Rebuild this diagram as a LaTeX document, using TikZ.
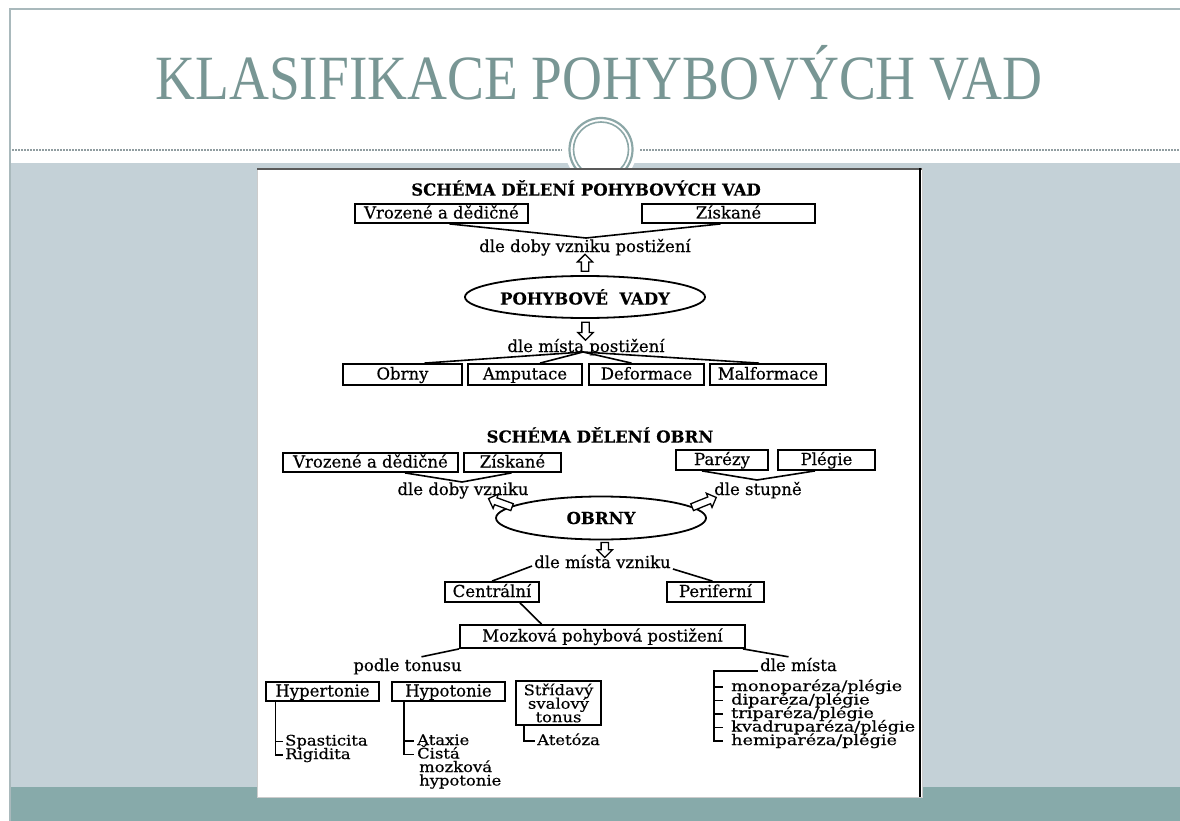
\documentclass[tikz,border=0pt]{standalone}
\usepackage{fontspec}
\usepackage{graphicx}
\setmainfont{DejaVu Serif}
\newfontfamily\scan{DejaVu Serif}[FakeBold=0.4]
\newfontfamily\scanbf{DejaVu Serif Bold}[FakeBold=0.3]
\newfontfamily\titlefont{Liberation Serif}
\usetikzlibrary{shapes.geometric,shapes.arrows,calc}
\definecolor{band}{HTML}{C4D1D7}
\definecolor{foot}{HTML}{87AAAA}
\definecolor{titlec}{HTML}{789694}
\definecolor{frame}{HTML}{A9B9BC}
\definecolor{ring}{HTML}{8CA7A7}
\newcommand{\wide}[1]{\scalebox{1.22}[1]{#1}}
\newcommand{\wid}[1]{\scalebox{1.13}[1]{#1}}
\newcommand{\tightlines}{\lineskiplimit=-50pt\relax\lineskip=0pt\relax}
\begin{document}
\begin{tikzpicture}[x=1pt,y=-1pt,
 lbl/.style={inner sep=0pt,font=\scan\fontsize{16.5}{18}\selectfont,text height=12pt,text depth=2pt},
 sm/.style={inner sep=0pt,anchor=west,font=\scan\fontsize{14.5}{16}\selectfont,text height=10pt,text depth=2pt},
 big/.style={inner sep=0pt,anchor=west,font=\scan\fontsize{14.5}{16}\selectfont,text height=10pt,text depth=2pt},
 hd/.style={inner sep=0pt,font=\scanbf\fontsize{16.5}{18}\selectfont},
 bx/.style={draw,line width=1.8pt,inner sep=0pt,font=\scan\fontsize{16.5}{18}\selectfont,text height=12pt,text depth=2pt},
 ov/.style={ellipse,draw,line width=1.8pt,inner sep=0pt,font=\scanbf\fontsize{16.5}{18}\selectfont},
 cn/.style={line width=1.6pt},
 har/.style={single arrow,draw,fill=white,line width=1.3pt,inner sep=3pt,single arrow head extend=4pt,minimum height=#1},
]
\useasboundingbox (0,0) rectangle (1180,821);
% slide background
\fill[white] (0,0) rectangle (1180,821);
\fill[band] (10,163) rectangle (1180,787);
\fill[foot] (10,787) rectangle (1180,821);
\draw[frame,line width=1.2pt] (10,821) -- (10,9) -- (1180,9);
\draw[frame!85!black,line width=1.2pt,dash pattern=on 1.5pt off 1.5pt] (12,150) -- (562,150) (640,150) -- (1180,150);
\fill[white] (601,149.5) circle (36);
\draw[ring,line width=2.2pt] (601,149.5) circle (31.5);
\draw[ring,line width=1.6pt] (601,149.5) circle (27.5);
\node[anchor=base,text=titlec,inner sep=0pt] (title) at (599,100)
  {\titlefont\fontsize{63}{70}\selectfont\scalebox{0.878}[1]{KLASIFIKACE POHYBOVÝCH VAD}};
% scanned panel
\fill[white] (257,168) rectangle (922,797);
\draw[black!20,line width=0.8pt] (257,168) rectangle (922,797);
\draw[black!65,line width=1.6pt] (257,169) -- (922,169);
\draw[black,line width=2.6pt] (920,168) -- (920,797);

% ---------- section 1 ----------
\node[hd] (h1) at (586,188) {SCHÉMA DĚLENÍ POHYBOVÝCH VAD};
\node[bx,minimum width=173pt,minimum height=19pt] (v1) at (441.5,213.5) {Vrozené a dědičné};
\node[bx,minimum width=173pt,minimum height=19pt] (z1) at (728.5,213.5) {Získané};
\node[lbl] (t1) at (585,247) {dle doby vzniku postižení};
\coordinate (p1) at (586,238);
\draw[cn] ([xshift=8pt]v1.south) -- (p1) -- ([xshift=-8pt]z1.south);
\node[ov,minimum width=208pt,minimum height=42pt] (e1) at (585,297) {POHYBOVÉ\ \ VADY};
\node[har=17pt,rotate=90] (a1) at ($(e1.north)!0.5!(t1.south)$) {};
\node[lbl] (t2) at (586,347) {dle místa postižení};
\node[har=18pt,rotate=-90] (a2) at ($(e1.south)!0.5!(t2.north)$) {};
\coordinate (p2) at (583,352);
\node[bx,minimum width=119pt,minimum height=21pt] (b1) at (402.5,374.5) {Obrny};
\node[bx,minimum width=114pt,minimum height=21pt] (b2) at (525,374.5) {Amputace};
\node[bx,minimum width=115pt,minimum height=21pt] (b3) at (646.5,374.5) {Deformace};
\node[bx,minimum width=116pt,minimum height=21pt] (b4) at (768,374.5) {Malformace};
\draw[cn] (p2) -- ([xshift=22pt]b1.north);
\draw[cn] (p2) -- ([xshift=15pt]b2.north);
\draw[cn] (p2) -- ([xshift=-15pt]b3.north);
\draw[cn] (p2) -- ([xshift=-9pt]b4.north);

% ---------- section 2 ----------
\node[hd] (h2) at (600,435) {SCHÉMA DĚLENÍ OBRN};
\node[bx,minimum width=175pt,minimum height=19pt] (v2) at (370.5,462.5) {Vrozené a dědičné};
\node[bx,minimum width=97pt,minimum height=19pt] (z2) at (512.5,462.5) {Získané};
\node[bx,minimum width=92pt,minimum height=20pt] (par) at (722,460) {Parézy};
\node[bx,minimum width=97pt,minimum height=20pt] (ple) at (826.5,460) {Plégie};
\node[lbl] (t3) at (463,490) {dle doby vzniku};
\node[lbl] (t4) at (758,490) {dle stupně};
\coordinate (p3) at (462,482);
\coordinate (p4) at (757,480);
\draw[cn] ([xshift=34.5pt]v2.south) -- (p3) -- ([xshift=-1pt]z2.south);
\draw[cn] ([xshift=-20pt]par.south) -- (p4) -- ([xshift=-11.5pt]ple.south);
\node[ov,minimum width=210pt,minimum height=43pt] (e2) at (601,518) {OBRNY};
\coordinate (a3s) at (514,508);
\coordinate (a3e) at (490,499);
\coordinate (a4s) at (690,508);
\coordinate (a4e) at (715,498);
\node[har=25pt,rotate=160] (a3) at ($(a3s)!0.5!(a3e)$) {};
\node[har=26pt,rotate=22] (a4) at ($(a4s)!0.5!(a4e)$) {};
\node[lbl] (t5) at (602.5,563) {dle místa vzniku};
\node[har=15pt,rotate=-90] (a5) at ($(e2.south)!0.5!(t5.north)+(3,0)$) {};
\node[bx,minimum width=94pt,minimum height=20pt] (cen) at (492,592) {Centrální};
\node[bx,minimum width=97pt,minimum height=20pt] (per) at (715.5,592) {Periferní};
\draw[cn] ($(t5.west)+(-2,3)$) -- (cen.north);
\draw[cn] ($(t5.east)+(2,6)$) -- ([xshift=-3pt]per.north);
\node[bx,minimum width=285pt,minimum height=23pt] (moz) at (602.5,636.5) {Mozková pohybová postižení};
\draw[cn] ([xshift=28pt]cen.south) -- ([xshift=-61pt]moz.north);
\node[lbl] (pt) at (407.5,666) {podle tonusu};
\node[lbl] (dm) at (798.5,666) {dle místa};
\draw[cn] (moz.south west) -- ([xshift=14pt,yshift=2pt]pt.north);
\draw[cn] ([xshift=-3pt]moz.south east) -- ([xshift=-10pt,yshift=2pt]dm.north);

% tone groups
\node[bx,minimum width=113pt,minimum height=19pt] (hyper) at (322.5,691.5) {Hypertonie};
\node[bx,minimum width=113pt,minimum height=19pt] (hypo) at (448.5,691.5) {Hypotonie};
\node[draw,line width=1.8pt,inner sep=0pt,minimum width=85pt,minimum height=44pt,align=center,
      font=\scan\fontsize{14.5}{13.5}\selectfont\tightlines] (strid) at (558.5,703) {\wid{Střídavý}\\\wid{svalový}\\\wid{tonus}};
\node[sm] (sp) at (285,741.5) {\wid{Spasticita}};
\node[sm] (rg) at (285,755) {\wid{Rigidita}};
\node[sm] (at) at (417,741) {\wid{Ataxie}};
\node[sm] (ci) at (417,754.5) {\wid{Čistá}};
\node[sm] (mz) at (419,768) {\wid{mozková}};
\node[sm] (hy) at (419,781.5) {\wid{hypotonie}};
\node[sm] (ate) at (537,741) {\wid{Atetóza}};
\coordinate (hb) at ([xshift=-47pt]hyper.south);
\coordinate (ob) at ([xshift=-44.5pt]hypo.south);
\coordinate (sb) at ([xshift=-34.5pt]strid.south);
\draw[cn] (hb) |- ([xshift=-2pt]rg.west);
\draw[cn] (hb |- sp.west) -- ([xshift=-2pt]sp.west);
\draw[cn] (ob) |- ([xshift=-3pt]ci.west);
\draw[cn] (ob |- at.west) -- ([xshift=-3pt]at.west);
\draw[cn] (sb) |- ([xshift=-2pt]ate.west);

% place list
\node[big] (l1) at (731,687) {\wide{monoparéza/plégie}};
\node[big] (l2) at (731,700.5) {\wide{diparéza/plégie}};
\node[big] (l3) at (731,714) {\wide{triparéza/plégie}};
\node[big] (l4) at (731,727.5) {\wide{kvadruparéza/plégie}};
\node[big] (l5) at (731,741) {\wide{hemiparéza/plégie}};
\coordinate (lb) at ($(l1.west |- dm.base)+(-17,0)$);
\draw[cn] ([xshift=-2pt]dm.base west) -- (lb) |- ([xshift=-8pt]l5.west);
\draw[cn] (lb |- l1.west) -- ([xshift=-8pt]l1.west);
\draw[cn] (lb |- l2.west) -- ([xshift=-8pt]l2.west);
\draw[cn] (lb |- l3.west) -- ([xshift=-8pt]l3.west);
\draw[cn] (lb |- l4.west) -- ([xshift=-8pt]l4.west);
\end{tikzpicture}
\end{document}
